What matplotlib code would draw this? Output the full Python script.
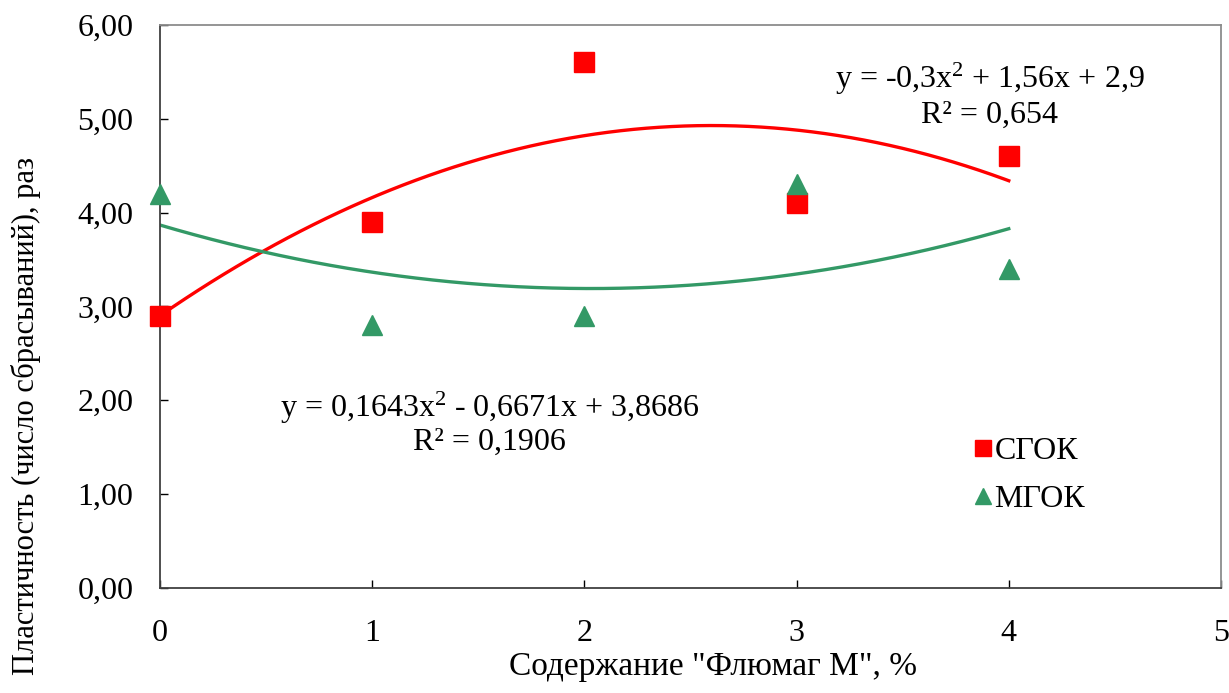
import numpy as np
import matplotlib
matplotlib.use('Agg')
import matplotlib.pyplot as plt
from matplotlib.ticker import FuncFormatter

plt.rcParams['font.family'] = ['Liberation Serif', 'DejaVu Serif']
plt.rcParams['mathtext.fontset'] = 'custom'
plt.rcParams['mathtext.rm'] = 'Liberation Serif'
plt.rcParams['mathtext.it'] = 'Liberation Serif'

x = [0, 1, 2, 3, 4]
sgok = [2.9, 3.9, 5.6, 4.1, 4.6]
mgok = [4.2, 2.8, 2.9, 4.3, 3.4]

red = '#ff0000'
green = '#339966'

fig = plt.figure(figsize=(12.29, 6.93), dpi=100)
ax = fig.add_axes([0.130, 0.1515, 0.8635, 0.8125])

# polynomial trend lines (order 2)
xs = np.linspace(0, 4, 200)
p_red = np.polyfit(x, sgok, 2)
p_green = np.polyfit(x, mgok, 2)
ax.plot(xs, np.polyval(p_red, xs), color=red, lw=2.4, zorder=2)
ax.plot(xs, np.polyval(p_green, xs), color=green, lw=2.4, zorder=2)

ax.plot(x, sgok, 's', color=red, ms=14, label='СГОК', zorder=3, clip_on=False)
ax.plot(x, mgok, '^', color=green, ms=14, label='МГОК', zorder=3, clip_on=False)

ax.set_xlim(0, 5)
ax.set_ylim(0, 6)
ax.set_xticks(range(0, 6))
ax.set_yticks(np.arange(0, 7, 1))
ax.yaxis.set_major_formatter(FuncFormatter(lambda v, p: f'{v:.2f}'.replace('.', ',')))
ax.tick_params(direction='in', length=6, width=1, labelsize=23)
ax.tick_params(axis='y', pad=19)
ax.tick_params(axis='x', pad=22)

for s in ['left', 'bottom']:
    ax.spines[s].set_color('#404040')
    ax.spines[s].set_linewidth(1.3)
for s in ['top', 'right']:
    ax.spines[s].set_color('#8c8c8c')
    ax.spines[s].set_linewidth(1.3)

ax.set_xlabel('Содержание "Флюмаг М", %', fontsize=24)
ax.xaxis.set_label_coords(0.521, -0.112)
ax.set_ylabel('Пластичность (число сбрасываний), раз', fontsize=22)
ax.yaxis.set_label_coords(-0.112, 0.305)

ax.text(3.91, 5.43, 'y = -0,3x$^2$ + 1,56x + 2,9', fontsize=23, ha='center', va='center')
ax.text(3.91, 5.04, 'R² = 0,654', fontsize=23, ha='center', va='center')
ax.text(1.555, 1.92, 'y = 0,1643x$^2$ - 0,6671x + 3,8686', fontsize=23, ha='center', va='center')
ax.text(1.555, 1.55, 'R² = 0,1906', fontsize=23, ha='center', va='center')

leg = ax.legend(loc='upper left', bbox_to_anchor=(0.74, 0.32), frameon=False,
                fontsize=23, handlelength=0.6, handletextpad=0.05, labelspacing=0.6,
                markerscale=0.85)

fig.savefig('out.png', dpi=100)
